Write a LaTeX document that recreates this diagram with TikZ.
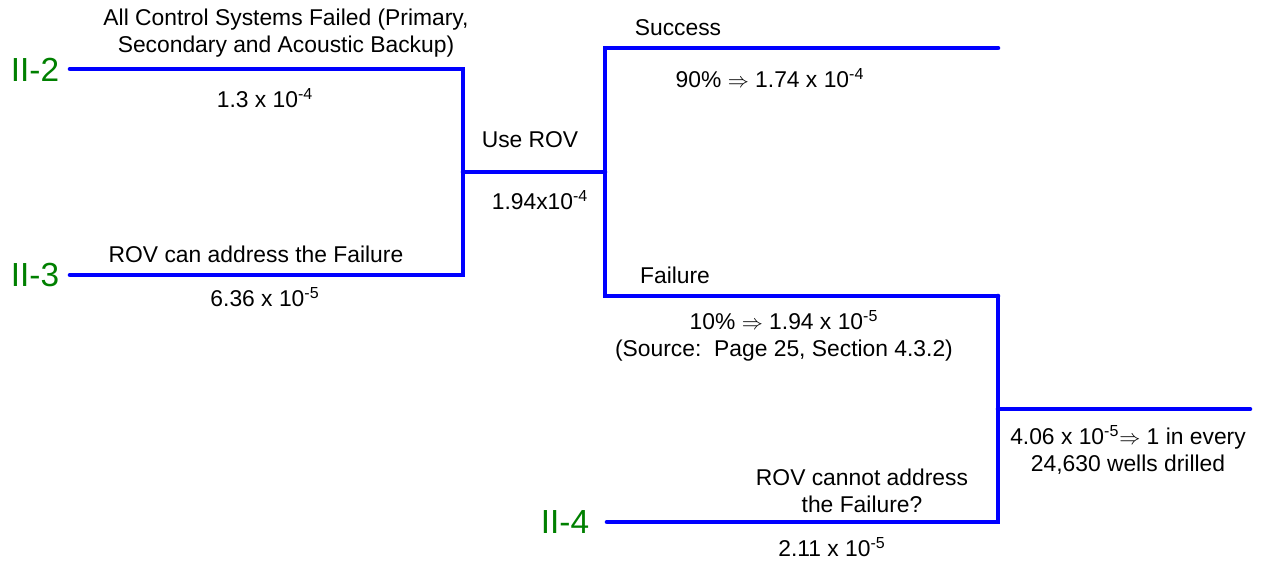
\documentclass[tikz,border=0pt]{standalone}
\usepackage{fontspec}
\setmainfont{Liberation Sans}
\usetikzlibrary{positioning}
\definecolor{eventgreen}{RGB}{0,128,0}
\tikzset{
  branch/.style={draw=blue, line width=2.6pt, line cap=round, line join=miter},
  lbl/.style={font=\fontsize{13}{15.5}\selectfont, align=center, inner sep=0pt},
  tag/.style={font=\fontsize{19}{22}\selectfont, text=eventgreen, inner sep=0pt},
}

\begin{document}
\begin{tikzpicture}[x=0.02cm, y=-0.02cm]
  \useasboundingbox (0,0) rectangle (1265,563);

  % initiating events
  \node[tag] (ii2) at (35,70) {II-2};
  \node[tag] (ii3) at (35,275) {II-3};
  \node[tag] (ii4) at (565,522) {II-4};

  % branch points
  \coordinate (s2) at (70,69);
  \coordinate (s3) at (70,275);
  \coordinate (s4) at (607,522);
  \coordinate (j1) at (463,172);
  \coordinate (j2) at (605,172);
  \coordinate (succ) at (998,48);
  \coordinate (fail) at (998,296);
  \coordinate (j3) at (998,409);
  \coordinate (out) at (1250,409);

  \draw[branch] (s2) -| (j1) |- (s3);
  \draw[branch] (j1) -- (j2);
  \draw[branch] (succ) -| (j2) |- (fail);
  \draw[branch] (fail) |- (s4);
  \draw[branch] (j3) -- (out);

  % labels
  \node[lbl] (allfail) at (286,33) {All Control Systems Failed (Primary,\\Secondary and Acoustic Backup)};
  \node[lbl] (p2) at (265,98) {1.3 x 10\textsuperscript{-4}};
  \node[lbl] (canrov) at (256,254) {ROV can address the Failure};
  \node[lbl] (p3) at (265,297) {6.36 x 10\textsuperscript{-5}};
  \node[lbl] (userov) at (530,140) {Use ROV};
  \node[lbl] (prov) at (540,200) {1.94x10\textsuperscript{-4}};
  \node[lbl] (success) at (678,28) {Success};
  \node[lbl] (psucc) at (770,78) {90\% $\Rightarrow$ 1.74 x 10\textsuperscript{-4}};
  \node[lbl] (failure) at (675,275) {Failure};
  \node[lbl] (pfail) at (784,336) {10\% $\Rightarrow$ 1.94 x 10\textsuperscript{-5}\\(Source:\ \ Page 25, Section 4.3.2)};
  \node[lbl] (cannot) at (862,491) {ROV cannot address\\the Failure?};
  \node[lbl] (p4) at (832,547) {2.11 x 10\textsuperscript{-5}};
  \node[lbl] (total) at (1128,450) {4.06 x 10\textsuperscript{-5}$\Rightarrow$ 1 in every\\24,630 wells drilled};
\end{tikzpicture}
\end{document}
